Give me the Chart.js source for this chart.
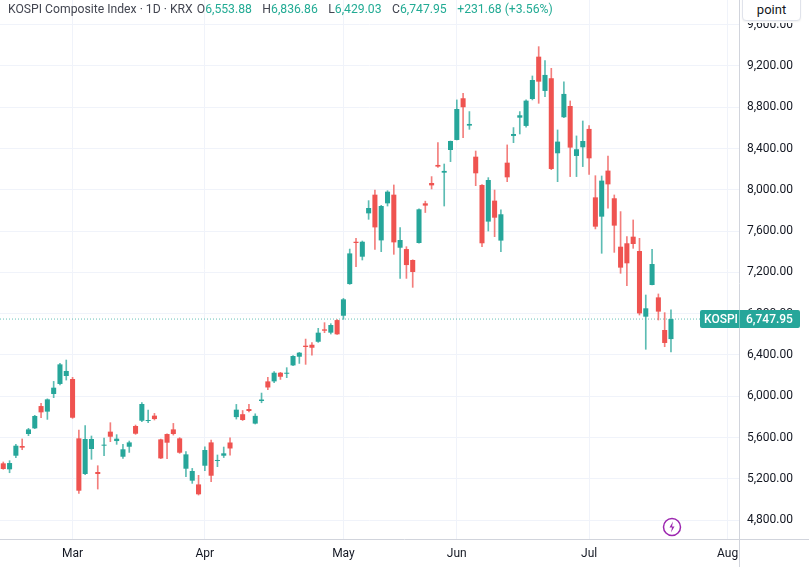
<!DOCTYPE html>
<html>
<head>
<meta charset="utf-8">
<script src="https://cdn.jsdelivr.net/npm/chart.js@4.4.1/dist/chart.umd.min.js"></script>
<style>
  html, body { margin: 0; padding: 0; background: #fff; }
  #wrap { position: relative; width: 809px; height: 567px; font-family: Roboto, 'Noto Sans', sans-serif; }
  #head { position: absolute; left: 8px; top: 1px; font-size: 12.2px; color: #434651; white-space: nowrap; line-height: 16px; }
  #head .t { margin-right: 4px; }
  #head .v { color: #22ab94; margin-right: 10.5px; }
  #mask { position: absolute; left: 740px; top: 0; width: 69px; height: 23px; background: #fff; }
  #unit { position: absolute; left: 742px; top: -4px; width: 57px; height: 23px; border: 1px solid #e0e3eb; border-radius: 4px;
          background: #fff; font-size: 13px; color: #131722; text-align: center; line-height: 25px;
          box-shadow: 0 1px 2px rgba(0,0,0,0.06); }
  #bolt { position: absolute; left: 662px; top: 517px; }
</style>
</head>
<body>
<div id="wrap">
  <canvas id="kospiChart" width="809" height="567"></canvas>
  <div id="head"><span class="t">KOSPI Composite Index · 1D · KRX</span>O<span class="v">6,553.88</span>H<span class="v">6,836.86</span>L<span class="v">6,429.03</span>C<span class="v">6,747.95</span><span class="v">+231.68 (+3.56%)</span></div>
  <div id="mask"></div>
  <div id="unit">point</div>
  <svg id="bolt" width="20" height="20" viewBox="0 0 20 20">
    <circle cx="10" cy="10" r="8.5" fill="#fff" stroke="#9c27b0" stroke-width="1.5"/>
    <path d="M11 4.5 L7.5 10.5 L10 10.5 L9 15.5 L12.5 9.5 L10 9.5 Z" fill="#9c27b0"/>
  </svg>
</div>
<script>
// daily candles, one per trading day (index 0 = mid Feb)
const open  = [5350, 5292, 5424, 5518, 5634, 5689, 5905, 5851, 6022, 6119, 6196, 6167, 5592, 5247, 5489, 5266,
               5521, 5657, 5566, 5414, 5511, 5712, 5763, 5760, 5812, 5582, 5634, 5679, 5592, 5298, 5182, 5146,
               5327, 5553, 5373, 5424, 5552, 5798, 5826, 5876, 5735, 5954, 6144, 6144, 6228, 6218, 6299, 6383,
               6490, 6499, 6528, 6648, 6616, 6738, 6780, 7087, 7497, 7352, 7772, 7953, 7510, 7869, 7953, 7439,
               7426, 7320, 7485, 7869, 8066, 8241, 8166, 8386, 8483, 8887, 8622, 8321, 8047, 7692, 7895, 7508,
               8263, 8522, 8699, 8619, 8880, 9290, 8958, 9081, 8354, 8703, 8812, 8328, 8412, 8590, 7927, 7740,
               8186, 7918, 7449, 7482, 7546, 7407, 6771, 7078, 6958, 6642, 6553.88];
const high  = [5363, 5376, 5534, 5586, 5689, 5815, 5931, 5975, 6144, 6319, 6351, 6183, 5673, 5715, 5615, 5327,
               5595, 5744, 5628, 5534, 5566, 5721, 5938, 5867, 5834, 5585, 5637, 5737, 5599, 5463, 5301, 5234,
               5511, 5576, 5431, 5508, 5598, 5921, 5862, 5921, 5830, 6031, 6183, 6238, 6232, 6277, 6393, 6425,
               6554, 6519, 6658, 6713, 6703, 6742, 6948, 7426, 7530, 7504, 7895, 7998, 7850, 7992, 8047, 7633,
               7449, 7322, 7815, 7890, 8128, 8457, 8250, 8473, 8871, 8935, 8758, 8376, 8050, 8118, 7998, 7805,
               8435, 8603, 8758, 8871, 9103, 9387, 9252, 9177, 8580, 9045, 8861, 8522, 8667, 8622, 8137, 8134,
               8328, 7950, 7789, 7546, 7708, 7530, 6981, 7424, 6991, 6810, 6836.86];
const low   = [5292, 5259, 5405, 5482, 5618, 5686, 5792, 5776, 5986, 6109, 6157, 5786, 5059, 5240, 5389, 5101,
               5424, 5560, 5534, 5398, 5456, 5631, 5754, 5744, 5770, 5395, 5395, 5624, 5447, 5221, 5156, 5043,
               5278, 5172, 5318, 5406, 5429, 5779, 5765, 5847, 5731, 5937, 6063, 6131, 6163, 6180, 6296, 6318,
               6309, 6399, 6522, 6616, 6603, 6598, 6745, 7084, 7255, 7320, 7714, 7423, 7401, 7843, 7375, 7142,
               7142, 7055, 7482, 7780, 8008, 8218, 7843, 8273, 8483, 8506, 8586, 8040, 7449, 7601, 7546, 7401,
               8079, 8457, 8541, 8606, 8871, 8838, 8903, 8195, 8079, 8700, 8128, 8128, 8225, 8150, 7621, 7385,
               7821, 7394, 7191, 7071, 7433, 6787, 6455, 7078, 6739, 6480, 6429.03];
const close = [5295, 5353, 5521, 5502, 5679, 5809, 5844, 5970, 6083, 6309, 6245, 5792, 5085, 5586, 5586, 5247,
               5531, 5608, 5589, 5486, 5553, 5637, 5925, 5770, 5779, 5398, 5550, 5634, 5453, 5437, 5276, 5050,
               5479, 5230, 5382, 5447, 5494, 5870, 5770, 5857, 5810, 5968, 6085, 6228, 6189, 6228, 6390, 6422,
               6477, 6470, 6616, 6635, 6690, 6600, 6939, 7384, 7485, 7497, 7824, 7636, 7843, 7982, 7491, 7514,
               7271, 7204, 7811, 7847, 8043, 8225, 8183, 8473, 8783, 8800, 8638, 8160, 7482, 8095, 7730, 7763,
               8121, 8541, 8722, 8864, 9064, 9048, 9113, 8202, 8467, 8929, 8409, 8393, 8473, 8305, 7643, 8089,
               8053, 7653, 7246, 7288, 7475, 6803, 6852, 7281, 6820, 6516.27, 6747.95];

// x axis: month labels sit on the first trading day of each month
const monthLabels = ['Mar', 'Apr', 'May', 'Jun', 'Jul', 'Aug'];
const monthStart  = [11, 32, 54, 72, 93, 115];

// y axis price ticks
const yTicks = [4800, 5200, 5600, 6000, 6400, 6800, 7200, 7600, 8000, 8400, 8800, 9200, 9600];
const lastPrice = 6747.95;

const upColor = '#26a69a';
const downColor = '#ef5350';

const xMin = -0.52;
const xMax = 116.8;

const bodies = [];
const wicks = [];
const bodyColors = [];
const wickColors = [];
for (let i = 0; i < open.length; i++) {
    bodies.push({ x: i, y: [open[i], close[i]] });
    wicks.push({ x: i, y: [low[i], high[i]] });
    const up = close[i] >= open[i];
    bodyColors.push(up ? upColor : downColor);
    wickColors.push(up ? 'rgba(38,166,154,0.75)' : 'rgba(239,83,80,0.75)');
}

Chart.defaults.font.family = 'Roboto, "Noto Sans", sans-serif';
Chart.defaults.font.size = 12;
Chart.defaults.color = '#131722';

const fmt = v => v.toLocaleString('en-US', { minimumFractionDigits: 2, maximumFractionDigits: 2 });

const overlay = {
    id: 'overlay',
    afterDraw(chart) {
        const { ctx, chartArea } = chart;
        const y = Math.round(chart.scales.y.getPixelForValue(lastPrice));
        ctx.save();
        ctx.strokeStyle = '#d1d4dc';
        ctx.lineWidth = 1;
        ctx.beginPath();
        ctx.moveTo(chartArea.right + 0.5, 0);
        ctx.lineTo(chartArea.right + 0.5, chart.height);
        ctx.moveTo(0, chartArea.bottom + 0.5);
        ctx.lineTo(chart.width, chartArea.bottom + 0.5);
        ctx.stroke();

        // last price tag
        ctx.fillStyle = upColor;
        ctx.beginPath();
        ctx.roundRect(700, y - 9, 100, 18, 2);
        ctx.fill();
        ctx.strokeStyle = 'rgba(255,255,255,0.35)';
        ctx.beginPath();
        ctx.moveTo(chartArea.right + 0.5, y - 9);
        ctx.lineTo(chartArea.right + 0.5, y + 9);
        ctx.stroke();
        ctx.fillStyle = '#fff';
        ctx.textBaseline = 'middle';
        ctx.font = '500 12px Roboto, sans-serif';
        ctx.fillText('KOSPI', 704, y + 1);
        ctx.fillText(fmt(lastPrice), chartArea.right + 7, y + 1);
        ctx.restore();
    }
};

const ctx = document.getElementById('kospiChart').getContext('2d');
const kospiChart = new Chart(ctx, {
    type: 'bar',
    data: {
        datasets: [
            {
                type: 'line',
                data: [{ x: xMin, y: lastPrice }, { x: xMax, y: lastPrice }],
                borderColor: 'rgba(38,166,154,0.7)',
                borderWidth: 1,
                borderDash: [1, 2],
                pointRadius: 0,
                order: 3
            },
            {
                data: wicks,
                backgroundColor: wickColors,
                barThickness: 1,
                grouped: false,
                order: 2
            },
            {
                data: bodies,
                backgroundColor: bodyColors,
                barPercentage: 0.8,
                categoryPercentage: 1,
                minBarLength: 1,
                grouped: false,
                order: 1
            }
        ]
    },
    options: {
        responsive: false,
        animation: false,
        layout: { padding: 0 },
        plugins: {
            legend: { display: false },
            tooltip: { enabled: false }
        },
        scales: {
            x: {
                type: 'linear',
                min: xMin,
                max: xMax,
                offset: false,
                grid: { color: '#f0f3fa', drawTicks: false, offset: false },
                border: { display: false },
                afterBuildTicks: scale => {
                    scale.ticks = monthStart.map(v => ({ value: v }));
                },
                ticks: {
                    autoSkip: false,
                    maxRotation: 0,
                    padding: 8,
                    callback: (value, index) => monthLabels[index]
                },
                afterFit: scale => {
                    scale.height = 28;
                    scale.paddingLeft = 0;
                    scale.paddingRight = 0;
                }
            },
            y: {
                position: 'right',
                min: 4617,
                max: 9839,
                grid: { color: '#f0f3fa', drawTicks: false },
                border: { display: false },
                afterBuildTicks: scale => {
                    scale.ticks = yTicks.map(v => ({ value: v }));
                },
                ticks: {
                    padding: 8,
                    callback: value => fmt(value)
                },
                afterFit: scale => {
                    scale.width = 70;
                    scale.paddingTop = 0;
                    scale.paddingBottom = 0;
                }
            }
        }
    },
    plugins: [overlay]
});
</script>
</body>
</html>
